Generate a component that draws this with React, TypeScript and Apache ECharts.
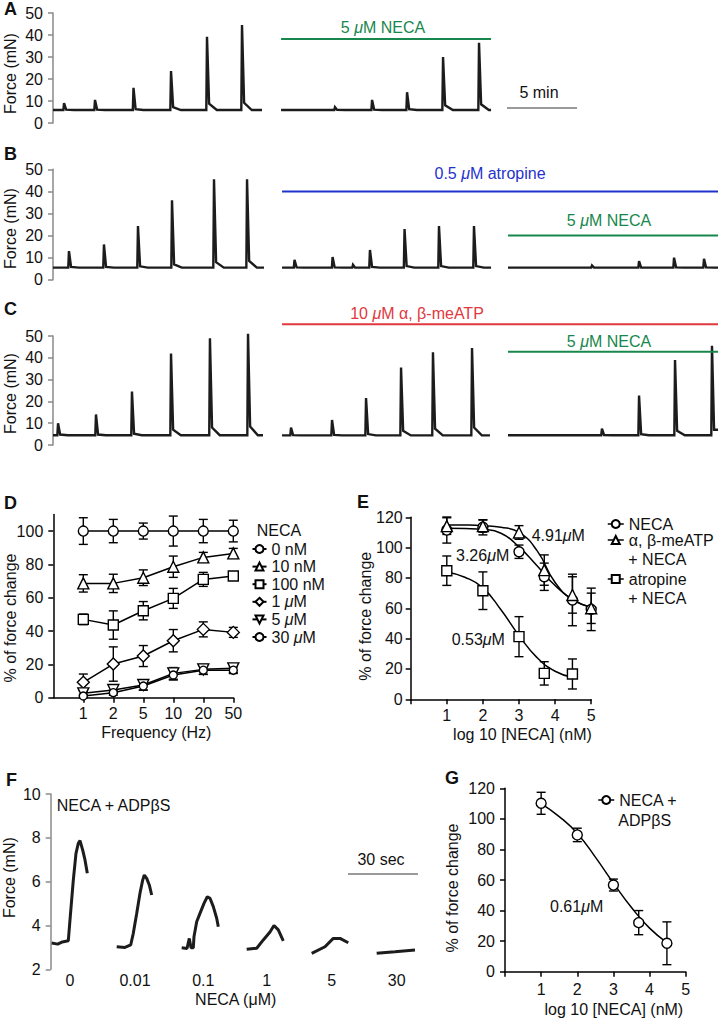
import React, { useEffect, useRef } from "react";
import * as echarts from "echarts";

const FONT = "'Liberation Sans', Arial, Helvetica, sans-serif";
const GREEN = "#17874d";
const BLUE = "#1f33cc";
const RED = "#e0383e";
const GRAY = "#9a9a9a";
const AXGRAY = "#8a8a8a";
const INK = "#111";
const TRACE = "#1c1c1c";

// ---------- Panels A-C: force traces (time in min, force in mN) ----------
const forceTicks = [0, 10, 20, 30, 40, 50];

const aSegments = [[0, 14.93], [16.29, 31.29]];
const aBaselines = [5.9, 5.9];
// [time, peak, shoulder after peak]
const aSpikes = [
  [[0.79, 9, 6.1], [3.0, 10.5, 6.1], [5.75, 16, 6.3], [8.43, 23.6, 7.2], [11.0, 39.2, 8.8], [13.5, 44.5, 9.2]],
  [[20.14, 7.2, 6.0], [22.79, 10.5, 6.1], [25.29, 14, 6.3], [27.86, 30, 8.0], [30.43, 36.5, 8.5]],
];
const aNecaBar = [[16.29, 38.2], [31.29, 38.2]];
const aScaleBar = [[32.43, 6.8], [37.43, 6.8]];

const bSegments = [[0, 15.07], [16.36, 31.29], [32.5, 47.5]];
const bBaselines = [5.5, 5.5, 5.5];
const bSpikes = [
  [[1.14, 13, 5.8], [3.64, 16, 5.8], [6.07, 24.3, 6.1], [8.5, 36, 7], [11.5, 45.5, 8], [13.86, 45.5, 8.5]],
  [[17.25, 9, 5.6], [19.97, 10.3, 5.6], [21.43, 6.8, 5.5], [22.64, 13.5, 5.8], [25.11, 23, 6.2], [27.57, 24.3, 6.2], [30.07, 24.3, 6.2]],
  [[38.5, 6.5, 5.5], [41.86, 8.5, 5.5], [44.36, 10, 5.6], [46.5, 9.5, 5.6]],
];
const bAtropineBar = [[16.36, 40], [47.5, 40]];
const bNecaBar = [[32.5, 20], [47.5, 20]];

const cSegments = [[0, 15], [16.36, 31.21], [32.5, 47.5]];
const cBaselines = [4.5, 4.4, 4.5];
const cSpikes = [
  [[0.36, 10, 4.8], [3.07, 14, 4.8], [5.64, 24.5, 5.2], [8.43, 42, 7], [11.21, 49, 8], [13.93, 51, 8.5]],
  [[17.0, 8, 4.5], [19.93, 11.5, 4.6], [22.36, 21.5, 5], [24.86, 35.5, 6.5], [27.14, 42.5, 7.5], [29.93, 44.5, 8]],
  [[39.21, 7.5, 4.6], [41.86, 22.7, 5], [44.43, 39, 6.5], [47.07, 45.5, 7]],
];
const cMeAtpBar = [[16.36, 55.4], [47.5, 55.4]];
const cNecaBar = [[32.5, 42.8], [47.5, 42.8]];

// ---------- Panel D: frequency response ----------
const dFreq = ["1", "2", "5", "10", "20", "50"];
const d0nM = [100, 100, 100, 100, 100, 100];
const d0nMErr = [8, 7, 4.8, 9, 7, 6.5];
const d10nM = [68.6, 68.6, 72, 78.6, 84.2, 86.6];
const d10nMErr = [5.2, 5.5, 4.7, 6.4, 3, 3];
const d100nM = [47, 43.6, 52.2, 59.6, 71, 73];
const d100nMErr = [3.2, 8.5, 5.5, 6, 4.2, 1.5];
const d1uM = [9.2, 20.2, 25, 34.2, 41, 39.2];
const d1uMErr = [5, 10.3, 6.3, 6.7, 4.5, 3];
const d5uM = [2.6, 4.6, 7.6, 14.6, 17, 17.6];
const d5uMErr = [1.5, 2, 3, 3.5, 3, 2.5];
const d30uM = [1, 3, 7, 13.6, 16.5, 16.5];
const d30uMErr = [1, 1.5, 2.5, 3, 2.5, 2];

// ---------- Panel E: concentration response ----------
const eLogConc = [1, 2, 3, 3.7, 4.48, 5];
const eNeca = [111.6, 113.4, 97.3, 80.8, 65.5, 59.3];
const eNecaErr = [8.6, 5, 4.4, 9, 17, 14];
const eMeAtp = [114.2, 114.2, 110, 85.2, 68.8, 60];
const eMeAtpErr = [5.5, 4, 4.5, 10, 12, 10];
const eAtropine = [84.8, 71.6, 41.3, 17.1, 16.7];
const eAtropineErr = [9.7, 12.4, 13.2, 7.7, 9.9];
const eNecaFit = [[1, 112.8], [1.5, 112.6], [2, 112], [2.5, 109.5], [3, 100.5], [3.5, 88], [4, 75], [4.5, 65.5], [5, 60.5]];
const eMeAtpFit = [[1, 115], [1.5, 114.9], [2, 114.5], [2.5, 113.5], [3, 110], [3.5, 98], [4, 77], [4.5, 65.5], [5, 61]];
const eAtropineFit = [[1, 84], [1.5, 80.5], [2, 73.5], [2.5, 59], [3, 42], [3.5, 27.5], [4, 18.5], [4.48, 14.5]];

// ---------- Panel F: ADPbetaS traces (time in s, force in mN) ----------
const fConc = ["0", "0.01", "0.1", "1", "5", "30"];
const fLabelPos = [8.27, 36.13, 65.4, 92.6, 120.4, 148.3];
const fTrace0 = [[0.43, 3.2], [3, 3.15], [5, 3.25], [7.54, 3.3], [8.27, 4.25], [9.69, 6.07], [10.84, 7.29], [11.83, 7.75], [12.56, 7.87], [13.72, 7.44], [14.7, 6.99], [15.69, 6.38]];
const fTrace001 = [[28.29, 3.03], [31.85, 3.0], [34.29, 3.11], [35.4, 3.64], [36.86, 4.55], [38.27, 5.47], [39.43, 6.07], [40.12, 6.3], [41.15, 6.15], [42.26, 5.85], [43.29, 5.39]];
const fTrace01 = [[56.15, 2.98], [58.42, 2.95], [59.41, 3.41], [60.14, 2.98], [61.12, 2.98], [61.42, 3.49], [62.58, 4.17], [63.99, 4.55], [65.71, 5.01], [67.12, 5.31], [68.28, 5.24], [69.7, 4.86], [71.15, 4.33], [71.84, 3.94]];
const fTrace1 = [[84.01, 2.91], [88.3, 2.96], [91.13, 3.34], [94.0, 3.7], [95.71, 4.0], [97.56, 3.8], [99.7, 3.3]];
const fTrace5 = [[111.87, 2.73], [117.57, 3.03], [121.13, 3.41], [124.0, 3.41], [127.56, 3.21]];
const fTrace30 = [[139.73, 2.73], [147.58, 2.8], [156.15, 2.88]];
const fScaleBar = [[127.43, 6.35], [157.43, 6.35]];

// ---------- Panel G ----------
const gLogConc = [1, 2, 3, 3.7, 4.48];
const gNecaAdp = [110.2, 89.5, 56.7, 32.1, 18.6];
const gNecaAdpErr = [7.2, 4.4, 3.9, 7.9, 14];
const gFit = [[1, 110], [1.5, 101.5], [2, 90.5], [2.5, 75], [3, 58], [3.5, 42], [4, 28.5], [4.48, 19]];

// ---------- helpers ----------
function buildTrace(seg: number[], base: number, spikes: number[][]) {
  const [s, e] = seg;
  const pts: number[][] = [[s, base]];
  for (const [t, peak, sh] of spikes) {
    pts.push([t - 0.05, base], [t, peak]);
    if (t + 0.15 < e) pts.push([t + 0.15, sh]);
    if (t + 0.7 < e) pts.push([t + 0.7, base]);
    else pts.push([e, sh]);
  }
  if (pts[pts.length - 1][0] < e) pts.push([e, base]);
  return pts;
}

const errRender = (params: any, api: any) => {
  const x = api.value(0);
  const lo = api.coord([x, api.value(1)]);
  const hi = api.coord([x, api.value(2)]);
  const w = 4.5;
  const style = { stroke: "#000", lineWidth: 1.4 };
  return {
    type: "group",
    children: [
      { type: "line", shape: { x1: lo[0], y1: lo[1], x2: hi[0], y2: hi[1] }, style },
      { type: "line", shape: { x1: lo[0] - w, y1: lo[1], x2: lo[0] + w, y2: lo[1] }, style },
      { type: "line", shape: { x1: hi[0] - w, y1: hi[1], x2: hi[0] + w, y2: hi[1] }, style },
    ],
  };
};

const errSeries = (ax: number, xs: number[], vals: number[], errs: number[]) => ({
  type: "custom",
  xAxisIndex: ax,
  yAxisIndex: ax,
  renderItem: errRender,
  encode: { x: 0, y: [1, 2] },
  data: vals.map((v, i) => [xs[i], v - errs[i], v + errs[i]]),
  z: 2,
  silent: true,
  clip: false,
});

const mkStyle = { color: "#fff", borderColor: "#000", borderWidth: 1.4 };

const labelStyle = { color: INK, fontSize: 16, fontFamily: FONT };

const T = (x: number, y: number, text: string, o: any = {}) => ({
  type: "text",
  x,
  y,
  z: 100,
  silent: true,
  style: {
    text,
    fill: o.color || INK,
    fontSize: o.size || 16,
    fontFamily: FONT,
    fontWeight: o.bold ? "bold" : "normal",
    align: o.align || "left",
    verticalAlign: "middle",
    rich: { i: { fontStyle: "italic", fontSize: o.size || 16, fontFamily: FONT, fill: o.color || INK } },
  },
});

function traceYAxis(g: number, padRight: number) {
  return {
    type: "value",
    gridIndex: g,
    min: 0,
    max: 50,
    interval: 10,
    axisLine: { show: true, lineStyle: { color: AXGRAY, width: 1.5 } },
    axisTick: { show: true, length: 5, lineStyle: { color: AXGRAY, width: 1.5 } },
    axisLabel: { ...labelStyle, margin: 10, customValues: forceTicks },
    splitLine: { show: false },
    name: "Force (mN)",
    nameLocation: "middle",
    nameGap: 35,
    nameMoveOverlap: false,
    nameTextStyle: { ...labelStyle, padding: [0, padRight, 0, 0] },
  };
}

const hiddenX = (g: number, max: number) => ({ type: "value", gridIndex: g, min: 0, max, show: false });

function traceSeries(ax: number, segs: number[][], bases: number[], spikes: number[][][]) {
  return segs.map((seg, i) => ({
    type: "line",
    xAxisIndex: ax,
    yAxisIndex: ax,
    data: buildTrace(seg, bases[i], spikes[i]),
    symbol: "none",
    lineStyle: { color: TRACE, width: 2.4, join: "miter" },
    clip: false,
    silent: true,
    z: 2,
  }));
}

const barSeries = (ax: number, data: number[][], color: string, width = 2) => ({
  type: "line",
  xAxisIndex: ax,
  yAxisIndex: ax,
  data,
  symbol: "none",
  lineStyle: { color, width },
  clip: false,
  silent: true,
});

const fSeries = (data: number[][]) => ({
  type: "line",
  xAxisIndex: 5,
  yAxisIndex: 5,
  data,
  symbol: "none",
  lineStyle: { color: TRACE, width: 3 },
  clip: false,
  silent: true,
});

const dDefs = [
  { name: "0 nM", vals: d0nM, errs: d0nMErr, symbol: "circle", size: 10 },
  { name: "10 nM", vals: d10nM, errs: d10nMErr, symbol: "triangle", size: 11 },
  { name: "100 nM", vals: d100nM, errs: d100nMErr, symbol: "rect", size: 10 },
  { name: "1 μM", vals: d1uM, errs: d1uMErr, symbol: "diamond", size: 12 },
  { name: "5 μM", vals: d5uM, errs: d5uMErr, symbol: "path://M0,0L10,0L5,9Z", size: 11 },
  { name: "30 μM", vals: d30uM, errs: d30uMErr, symbol: "circle", size: 8 },
];
const dX = dFreq.map((_, i) => i + 1);

const fitLine = (ax: number, data: number[][]) => ({
  type: "line",
  xAxisIndex: ax,
  yAxisIndex: ax,
  data,
  smooth: 0.5,
  symbol: "none",
  lineStyle: { color: "#000", width: 1.5 },
  z: 2,
  silent: true,
});

function buildOption() {
  const series: any[] = [];
  // A
  series.push(...traceSeries(0, aSegments, aBaselines, aSpikes));
  series.push(barSeries(0, aNecaBar, GREEN), barSeries(0, aScaleBar, GRAY));
  // B
  series.push(...traceSeries(1, bSegments, bBaselines, bSpikes));
  series.push(barSeries(1, bAtropineBar, BLUE), barSeries(1, bNecaBar, GREEN));
  // C
  series.push(...traceSeries(2, cSegments, cBaselines, cSpikes));
  series.push(barSeries(2, cMeAtpBar, RED), barSeries(2, cNecaBar, GREEN));
  // D
  dDefs.forEach((d) => {
    series.push(errSeries(3, dX, d.vals, d.errs));
    series.push({
      type: "line",
      name: d.name,
      xAxisIndex: 3,
      yAxisIndex: 3,
      data: d.vals.map((v, i) => [dX[i], v]),
      symbol: d.symbol,
      symbolSize: d.size,
      itemStyle: mkStyle,
      lineStyle: { color: "#000", width: 1.5 },
      z: 3,
      clip: false,
    });
  });
  // E
  const eDefs = [
    { name: "NECA", vals: eNeca, errs: eNecaErr, fit: eNecaFit, symbol: "circle", size: 10 },
    { name: "α, β-meATP + NECA", vals: eMeAtp, errs: eMeAtpErr, fit: eMeAtpFit, symbol: "triangle", size: 11 },
    { name: "atropine + NECA", vals: eAtropine, errs: eAtropineErr, fit: eAtropineFit, symbol: "rect", size: 10 },
  ];
  eDefs.forEach((d) => {
    series.push(errSeries(4, eLogConc, d.vals, d.errs));
    series.push(fitLine(4, d.fit));
    series.push({
      type: "line",
      name: d.name,
      xAxisIndex: 4,
      yAxisIndex: 4,
      data: d.vals.map((v, i) => [eLogConc[i], v]),
      symbol: d.symbol,
      symbolSize: d.size,
      itemStyle: mkStyle,
      lineStyle: { color: "#000", width: 1.5, opacity: 0 },
      z: 3,
    });
  });
  // F
  [fTrace0, fTrace001, fTrace01, fTrace1, fTrace5, fTrace30].forEach((t) => series.push(fSeries(t)));
  series.push({ ...barSeries(5, fScaleBar, GRAY) });
  // G
  series.push(errSeries(6, gLogConc, gNecaAdp, gNecaAdpErr));
  series.push(fitLine(6, gFit));
  series.push({
    type: "line",
    name: "NECA + ADPβS",
    xAxisIndex: 6,
    yAxisIndex: 6,
    data: gNecaAdp.map((v, i) => [gLogConc[i], v]),
    symbol: "circle",
    symbolSize: 10,
    itemStyle: mkStyle,
    lineStyle: { color: "#000", width: 1.5, opacity: 0 },
    z: 3,
  });

  const blackAxis = { show: true, lineStyle: { color: "#000", width: 1.5 } };
  const blackTick = { show: true, length: 5, lineStyle: { color: "#000", width: 1.5 } };

  const grids = [
    { left: 53, top: 13, width: 665, height: 110 },
    { left: 53, top: 169.3, width: 665, height: 110.5 },
    { left: 53, top: 336, width: 665, height: 109 },
    { left: 53.3, top: 514.4, width: 180, height: 183.3 },
    { left: 410.7, top: 517.3, width: 180.5, height: 182 },
    { left: 50.7, top: 794, width: 370, height: 175.3 },
    { left: 505, top: 788.3, width: 180.7, height: 183.4 },
  ].map((g) => ({ ...g, outerBoundsMode: "none", containLabel: false }));

  const xAxis: any[] = [
    hiddenX(0, 47.5),
    hiddenX(1, 47.5),
    hiddenX(2, 47.5),
    {
      type: "value", gridIndex: 3, min: 0, max: 6,
      axisLine: blackAxis,
      axisTick: { ...blackTick, customValues: dX },
      axisLabel: { ...labelStyle, margin: 8, customValues: dX, formatter: (v: number) => dFreq[Math.round(v) - 1] ?? "" },
      splitLine: { show: false },
      name: "Frequency (Hz)", nameLocation: "middle", nameGap: 27, nameMoveOverlap: false,
      nameTextStyle: { ...labelStyle, padding: [0, 0, 0, 26] },
    },
    {
      type: "value", gridIndex: 4, min: 0, max: 5,
      axisLine: blackAxis,
      axisTick: { ...blackTick, customValues: [0, 1, 2, 3, 4, 5] },
      axisLabel: { ...labelStyle, margin: 8, customValues: [1, 2, 3, 4, 5] },
      splitLine: { show: false },
      name: "log 10 [NECA] (nM)", nameLocation: "middle", nameGap: 27.5, nameMoveOverlap: false,
      nameTextStyle: { ...labelStyle, padding: [0, 0, 0, 43] },
    },
    {
      type: "value", gridIndex: 5, min: 0, max: 158.6,
      axisLine: { show: false }, axisTick: { show: false },
      axisLabel: {
        ...labelStyle, margin: 3, customValues: fLabelPos,
        formatter: (v: number) => {
          let best = 0;
          fLabelPos.forEach((p, i) => { if (Math.abs(p - v) < Math.abs(fLabelPos[best] - v)) best = i; });
          return fConc[best];
        },
      },
      splitLine: { show: false },
      name: "NECA (μM)", nameLocation: "middle", nameGap: 22, nameMoveOverlap: false,
      nameTextStyle: { ...labelStyle },
    },
    {
      type: "value", gridIndex: 6, min: 0, max: 5,
      axisLine: blackAxis,
      axisTick: { ...blackTick, customValues: [0, 1, 2, 3, 4, 5] },
      axisLabel: { ...labelStyle, margin: 10, customValues: [1, 2, 3, 4, 5] },
      splitLine: { show: false },
      name: "log 10 [NECA] (nM)", nameLocation: "middle", nameGap: 29.5, nameMoveOverlap: false,
      nameTextStyle: { ...labelStyle, padding: [0, 0, 0, 37] },
    },
  ];

  const pctTicks = [0, 20, 40, 60, 80, 100];
  const pctTicks120 = [0, 20, 40, 60, 80, 100, 120];
  const yAxis: any[] = [
    traceYAxis(0, 11),
    traceYAxis(1, 8),
    traceYAxis(2, 6),
    {
      type: "value", gridIndex: 3, min: 0, max: 110,
      axisLine: blackAxis,
      axisTick: { ...blackTick, customValues: pctTicks },
      axisLabel: { ...labelStyle, margin: 10, customValues: pctTicks },
      splitLine: { show: false },
      name: "% of force change", nameLocation: "middle", nameGap: 35, nameMoveOverlap: false,
      nameTextStyle: { ...labelStyle, padding: [0, 24, 0, 0] },
    },
    {
      type: "value", gridIndex: 4, min: 0, max: 120,
      axisLine: blackAxis,
      axisTick: { ...blackTick, customValues: pctTicks120 },
      axisLabel: { ...labelStyle, margin: 8, customValues: pctTicks120 },
      splitLine: { show: false },
      name: "% of force change", nameLocation: "middle", nameGap: 37, nameMoveOverlap: false,
      nameTextStyle: { ...labelStyle, padding: [0, 16, 0, 0] },
    },
    {
      type: "value", gridIndex: 5, min: 2, max: 10,
      axisLine: { show: true, lineStyle: { color: AXGRAY, width: 1.5 } },
      axisTick: { show: true, length: 5, lineStyle: { color: AXGRAY, width: 1.5 }, customValues: [2, 4, 6, 8, 10] },
      axisLabel: { ...labelStyle, margin: 10, customValues: [2, 4, 6, 8, 10] },
      splitLine: { show: false },
      name: "Force (mN)", nameLocation: "middle", nameGap: 33, nameMoveOverlap: false,
      nameTextStyle: { ...labelStyle, padding: [0, 0, 0, 8] },
    },
    {
      type: "value", gridIndex: 6, min: 0, max: 120,
      axisLine: blackAxis,
      axisTick: { ...blackTick, customValues: pctTicks120 },
      axisLabel: { ...labelStyle, margin: 10, customValues: pctTicks120 },
      splitLine: { show: false },
      name: "% of force change", nameLocation: "middle", nameGap: 45, nameMoveOverlap: false,
      nameTextStyle: { ...labelStyle, padding: [0, 16, 0, 0] },
    },
  ];

  const richI = { i: { fontStyle: "italic", fontSize: 16, fontFamily: FONT, color: INK } };
  const legBase = {
    orient: "vertical",
    selectedMode: false,
    padding: 0,
    itemHeight: 10,
    textStyle: { ...labelStyle, lineHeight: 16, rich: richI },
  };
  const legLine = { color: "#000", width: 1.5, opacity: 1 };
  const legend: any[] = [
    {
      ...legBase,
      left: 251.5, top: 541, itemWidth: 14, itemGap: 1.6,
      data: dDefs.map((d) => d.name),
      formatter: (n: string) => n.replace("μ", "{i|μ}"),
    },
    { ...legBase, left: 607, top: 516, itemWidth: 16, data: ["NECA"], lineStyle: legLine },
    { ...legBase, left: 607, top: 532, itemWidth: 16, data: ["α, β-meATP + NECA"], formatter: () => "α, β-meATP", lineStyle: legLine },
    { ...legBase, left: 607, top: 571, itemWidth: 16, data: ["atropine + NECA"], formatter: () => "atropine", lineStyle: legLine },
    { ...legBase, left: 597.5, top: 792, itemWidth: 16, data: ["NECA + ADPβS"], formatter: () => "NECA +", lineStyle: legLine },
  ];

  const graphic: any[] = [
    T(4, 9, "A", { bold: true, size: 18 }),
    T(4, 153.5, "B", { bold: true, size: 18 }),
    T(4, 308.5, "C", { bold: true, size: 18 }),
    T(4, 502.5, "D", { bold: true, size: 18 }),
    T(357, 502, "E", { bold: true, size: 18 }),
    T(6, 779.5, "F", { bold: true, size: 18 }),
    T(445, 777.5, "G", { bold: true, size: 18 }),
    T(383, 27, "5 {i|μ}M NECA", { color: GREEN, align: "center" }),
    T(539, 92, "5 min", { align: "center" }),
    T(490, 173, "0.5 {i|μ}M atropine", { color: BLUE, align: "center" }),
    T(609, 220, "5 {i|μ}M NECA", { color: GREEN, align: "center" }),
    T(417, 313, "10 {i|μ}M α, β-meATP", { color: RED, align: "center" }),
    T(609, 341, "5 {i|μ}M NECA", { color: GREEN, align: "center" }),
    T(256.7, 530, "NECA"),
    T(531.7, 535, "4.91{i|μ}M"),
    T(456, 555, "3.26{i|μ}M"),
    T(451.7, 639.3, "0.53{i|μ}M"),
    T(628.3, 559.3, "+ NECA"),
    T(628.3, 598.3, "+ NECA"),
    T(56.7, 805, "NECA + ADPβS"),
    T(381, 859, "30 sec", { align: "center" }),
    T(550, 906, "0.61{i|μ}M"),
    T(618.3, 820, "ADPβS"),
  ];

  return {
    animation: false,
    backgroundColor: "#fff",
    textStyle: { fontFamily: FONT },
    grid: grids,
    xAxis,
    yAxis,
    legend,
    series,
    graphic,
  };
}

export default function App() {
  const ref = useRef<HTMLDivElement>(null);
  useEffect(() => {
    if (!ref.current) return;
    const chart = echarts.init(ref.current, null, { renderer: "svg" });
    chart.setOption(buildOption() as any);
    return () => chart.dispose();
  }, []);
  return (
    <div
      ref={ref}
      style={{ position: "absolute", left: 0, top: 0, width: 718, height: 1020, background: "#fff" }}
    />
  );
}
